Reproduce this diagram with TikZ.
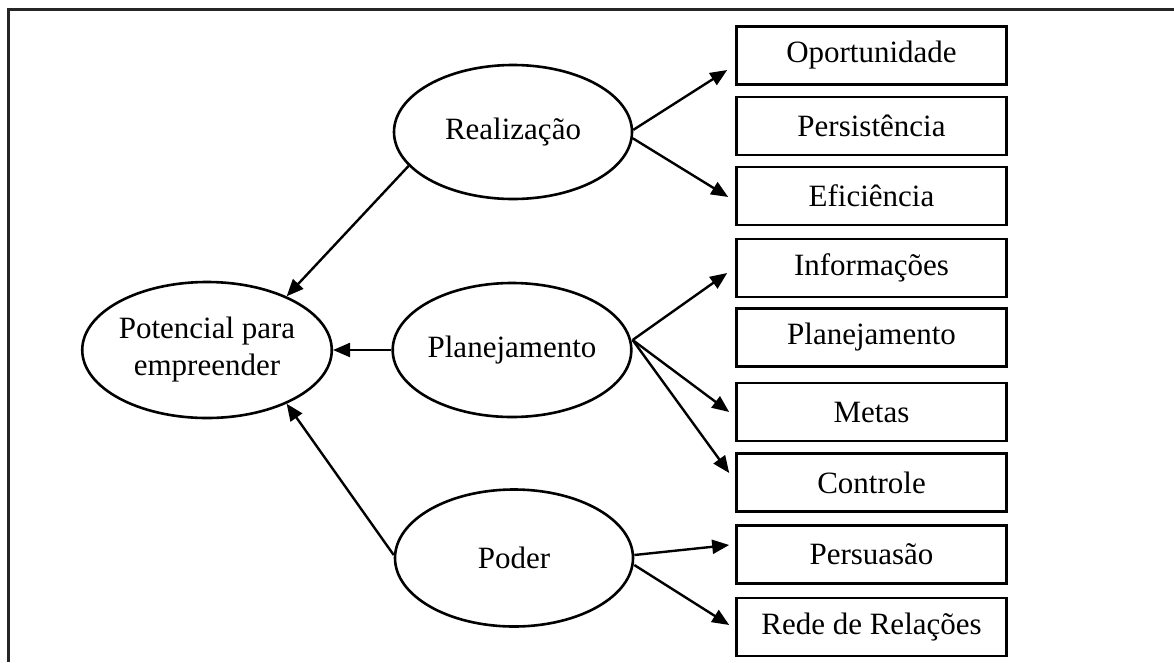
\documentclass[tikz,border=0pt]{standalone}
\usepackage{fontspec}
\setmainfont{Liberation Serif}
\usetikzlibrary{arrows.meta,shapes.geometric}
\begin{document}
\begin{tikzpicture}[x=1pt,y=-1pt,
  every node/.style={font=\fontsize{31}{37}\selectfont},
  oval/.style={draw,line width=2.6pt,ellipse,inner sep=0pt,minimum width=238pt,minimum height=134pt,align=center},
  itembox/.style={draw,line width=2.6pt,rectangle,inner sep=0pt,minimum width=270pt,minimum height=58pt},
  conn/.style={line width=2.4pt,-{Triangle[length=17pt,width=14pt]}},
  frameline/.style={line width=2.2pt,draw=black!85}]
\useasboundingbox (0,0) rectangle (1174,662);
\draw[frameline] (8.5,662) -- (8.5,9.5) -- (1174,9.5);

\node[oval,minimum width=240pt,minimum height=136pt] (pot) at (207,350) {Potencial para\\empreender};
\node[oval] (real) at (513,132) {Realização};
\node[oval] (plan) at (512,350) {Planejamento};
\node[oval,minimum height=137pt] (pod) at (514,558) {Poder};

\node[itembox] (op) at (871.5,55.5) {Oportunidade};
\node[itembox] (pe) at (871.5,126) {Persistência};
\node[itembox] (ef) at (871.5,196) {Eficiência};
\node[itembox] (inf) at (871.5,268) {Informações};
\node[itembox] (pl) at (871.5,337.5) {Planejamento};
\node[itembox] (me) at (871.5,412) {Metas};
\node[itembox] (co) at (871.5,482.5) {Controle};
\node[itembox] (ps) at (871.5,554.5) {Persuasão};
\node[itembox] (re) at (871.5,627) {Rede de Relações};

\draw[conn] (real.198) -- (pot.34);
\draw[conn] (plan.west) -- (pot.east);
\draw[conn] ([yshift=3pt]pod.west) -- (pot.-34);

\draw[conn] (real.1) -- ([xshift=-8pt,yshift=-14.5pt]op.west);
\draw[conn] (real.-3) -- ([xshift=-7pt,yshift=-1pt]ef.west);

\draw[conn] ([yshift=10pt]plan.east) -- ([xshift=-8pt,yshift=-5pt]inf.west);
\draw[conn] ([yshift=10pt]plan.east) -- ([xshift=-6pt]me.west);
\draw[conn] ([yshift=10pt]plan.east) -- ([xshift=-6pt,yshift=9.5pt]co.west);

\draw[conn] ([yshift=3pt]pod.east) -- ([xshift=-6pt,yshift=9.5pt]ps.west);
\draw[conn] ([yshift=-7pt]pod.east) -- ([xshift=-6pt,yshift=2pt]re.west);
\end{tikzpicture}
\end{document}
